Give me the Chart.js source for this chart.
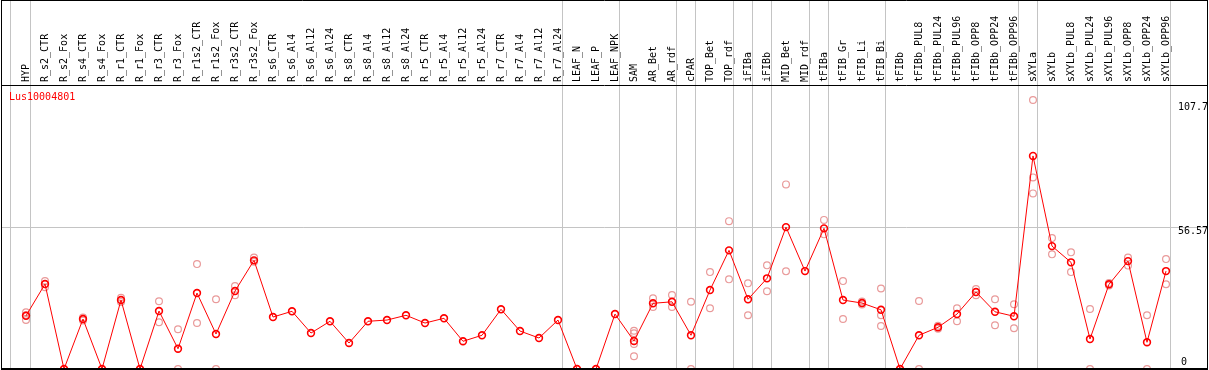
<!DOCTYPE html>
<html>
<head>
<meta charset="utf-8">
<script src="https://cdn.jsdelivr.net/npm/chart.js@4"></script>
<style>
  html, body { margin: 0; padding: 0; background: #fff; }
  #wrap { width: 1209px; height: 370px; }
</style>
</head>
<body>
<div id="wrap"><canvas id="c" width="1209" height="370"></canvas></div>
<script>
const categories = [
  "HYP","R_s2_CTR","R_s2_Fox","R_s4_CTR","R_s4_Fox","R_r1_CTR","R_r1_Fox","R_r3_CTR","R_r3_Fox",
  "R_r1s2_CTR","R_r1s2_Fox","R_r3s2_CTR","R_r3s2_Fox","R_s6_CTR","R_s6_Al4","R_s6_Al12","R_s6_Al24",
  "R_s8_CTR","R_s8_Al4","R_s8_Al12","R_s8_Al24","R_r5_CTR","R_r5_Al4","R_r5_Al12","R_r5_Al24",
  "R_r7_CTR","R_r7_Al4","R_r7_Al12","R_r7_Al24","LEAF_N","LEAF_P","LEAF_NPK","SAM","AR_Bet","AR_rdf",
  "cPAR","TOP_Bet","TOP_rdf","iFIBa","iFIBb","MID_Bet","MID_rdf","tFIBa","tFIB_Gr","tFIB_Li","tFIB_Bi",
  "tFIBb","tFIBb_PUL8","tFIBb_PUL24","tFIBb_PUL96","tFIBb_OPP8","tFIBb_OPP24","tFIBb_OPP96",
  "sXYLa","sXYLb","sXYLb_PUL8","sXYLb_PUL24","sXYLb_PUL96","sXYLb_OPP8","sXYLb_OPP24","sXYLb_OPP96"
];

const meanValues = [
  21.3, 34.0, 0, 20.0, 0, 27.6, 0, 23.2, 8.1,
  30.4, 14.0, 31.2, 43.5, 20.8, 23.1, 14.4, 19.1,
  10.4, 19.1, 19.6, 21.5, 18.4, 20.3, 11.1, 13.5,
  23.9, 15.2, 12.4, 19.6, 0, 0, 22.0, 11.2, 26.3, 26.9,
  13.5, 31.6, 47.5, 27.9, 36.3, 56.8, 39.2, 56.3, 27.6, 26.4, 23.7,
  0, 13.5, 16.7, 22.0, 30.8, 22.9, 21.1,
  85.3, 49.2, 42.7, 12.0, 33.9, 43.2, 10.7, 39.2
];

// replicate values per category (index -> values)
const replicateValues = {
  0: [22.7, 19.6, 21.5],
  1: [35.2, 32.7],
  3: [20.6, 19.4],
  5: [28.5, 26.8],
  7: [27.1, 18.7],
  8: [15.9, 0],
  9: [42.0, 18.4],
  10: [27.9, 0],
  11: [33.2, 29.5],
  12: [44.6, 42.9],
  32: [15.3, 14.3, 10.0, 5.1],
  33: [28.3, 24.8],
  34: [29.6, 24.8],
  35: [26.9, 0],
  36: [38.8, 24.3],
  37: [59.2, 35.9],
  38: [34.3, 21.5],
  39: [41.5, 31.1],
  40: [73.9, 39.1],
  42: [59.7, 53.9],
  43: [35.2, 20.0],
  44: [27.0, 25.8],
  45: [32.2, 21.5, 17.2],
  47: [27.2, 0],
  48: [17.3, 16.1],
  49: [24.3, 19.1],
  50: [32.0, 29.5],
  51: [27.9, 17.5],
  52: [25.9, 16.3],
  53: [107.7, 76.7, 70.3],
  54: [52.4, 45.9],
  55: [46.7, 38.8],
  56: [24.0, 0],
  57: [34.4, 33.4],
  58: [44.6, 41.4],
  59: [21.5, 0],
  60: [44.0, 33.9]
};

// last category index of each group (separator drawn after it)
const groupEnds = [0, 28, 31, 34, 35, 37, 38, 39, 41, 42, 45, 52, 53, 60];

const yTickValues = [0, 56.57, 107.7];
const seriesTitle = "Lus10004801";

const meanPoints = meanValues.map((v, i) => ({ x: i, y: v }));
const repPoints = [];
Object.keys(replicateValues).forEach(k => {
  replicateValues[k].forEach(v => repPoints.push({ x: Number(k), y: v }));
});

const MONO = "'DejaVu Sans Mono', 'Liberation Mono', monospace";

const framePlugin = {
  id: 'frame',
  beforeDatasetsDraw(chart) {
    const { ctx, chartArea: a, scales: { x } } = chart;
    ctx.save();
    ctx.strokeStyle = '#c4c4c4';
    ctx.lineWidth = 1;
    const bounds = [-0.8].concat(groupEnds.map(e => e + 0.25));
    bounds.forEach(b => {
      const px = Math.floor(x.getPixelForValue(b)) + 0.5;
      ctx.beginPath();
      ctx.moveTo(px, 0);
      ctx.lineTo(px, a.bottom);
      ctx.stroke();
    });
    ctx.restore();
  },
  afterDraw(chart) {
    const { ctx, chartArea: a, scales: { y } } = chart;
    ctx.save();
    // frame
    ctx.strokeStyle = '#000';
    ctx.lineWidth = 1;
    ctx.beginPath();
    ctx.moveTo(1.5, 0); ctx.lineTo(1.5, a.bottom);
    ctx.moveTo(1207.5, 0); ctx.lineTo(1207.5, a.bottom);
    ctx.moveTo(1, 0.5); ctx.lineTo(1208, 0.5);
    ctx.moveTo(1, Math.floor(a.top) + 0.5); ctx.lineTo(1208, Math.floor(a.top) + 0.5);
    ctx.stroke();
    ctx.lineWidth = 2;
    ctx.beginPath();
    ctx.moveTo(1, a.bottom); ctx.lineTo(1208, a.bottom);
    ctx.stroke();
    // title
    ctx.fillStyle = '#ff0000';
    ctx.font = '10px ' + MONO;
    ctx.textAlign = 'left';
    ctx.textBaseline = 'top';
    ctx.fillText(seriesTitle, 9, a.top + 7);
    // y labels
    ctx.fillStyle = '#000';
    ctx.textAlign = 'left';
    y.ticks.forEach(t => {
      const py = y.getPixelForValue(t.value);
      if (t.value === 0) {
        ctx.textBaseline = 'bottom';
        ctx.fillText(String(t.value), 1181, py - 2);
      } else {
        ctx.textBaseline = 'top';
        ctx.fillText(String(t.value), 1178, py + (t.value > 100 ? 2 : -1));
      }
    });
    ctx.restore();
  }
};

new Chart(document.getElementById('c'), {
  type: 'line',
  data: {
    datasets: [
      {
        label: seriesTitle,
        data: meanPoints,
        borderColor: '#ff0000',
        borderWidth: 1,
        pointRadius: 3.4,
        pointBorderWidth: 1.6,
        pointBorderColor: '#ff0000',
        pointBackgroundColor: 'rgba(0,0,0,0)',
        tension: 0,
        order: 0
      },
      {
        label: 'replicates',
        data: repPoints,
        showLine: false,
        pointRadius: 3.4,
        pointBorderWidth: 1.2,
        pointBorderColor: '#e99a9a',
        pointBackgroundColor: 'rgba(0,0,0,0)',
        order: 1
      }
    ]
  },
  options: {
    responsive: false,
    animation: false,
    events: [],
    layout: { autoPadding: false, padding: { left: 1.5, right: 1.5, top: 0, bottom: 1 } },
    plugins: { legend: { display: false }, tooltip: { enabled: false }, title: { display: false } },
    scales: {
      x: {
        type: 'linear',
        position: 'top',
        min: -1.2895,
        max: 62.184,
        afterBuildTicks: s => { s.ticks = categories.map((_, i) => ({ value: i })); },
        afterFit: s => { s.height = 85; s.paddingLeft = 0; s.paddingRight = 0; },
        ticks: {
          autoSkip: false,
          minRotation: 90,
          maxRotation: 90,
          padding: 3,
          labelOffset: 12.5,
          color: '#000',
          font: { family: MONO, size: 10 },
          callback: v => categories[v]
        },
        grid: { display: false, drawTicks: false },
        border: { display: false }
      },
      y: {
        type: 'linear',
        position: 'right',
        min: 0,
        max: 113.7,
        afterBuildTicks: s => { s.ticks = yTickValues.map(v => ({ value: v })); },
        afterFit: s => { s.width = 0; },
        ticks: { display: false },
        grid: {
          drawTicks: false,
          lineWidth: 1,
          color: c => (c.tick && c.tick.value === 56.57) ? '#c4c4c4' : 'rgba(0,0,0,0)'
        },
        border: { display: false }
      }
    }
  },
  plugins: [framePlugin]
});
</script>
</body>
</html>
